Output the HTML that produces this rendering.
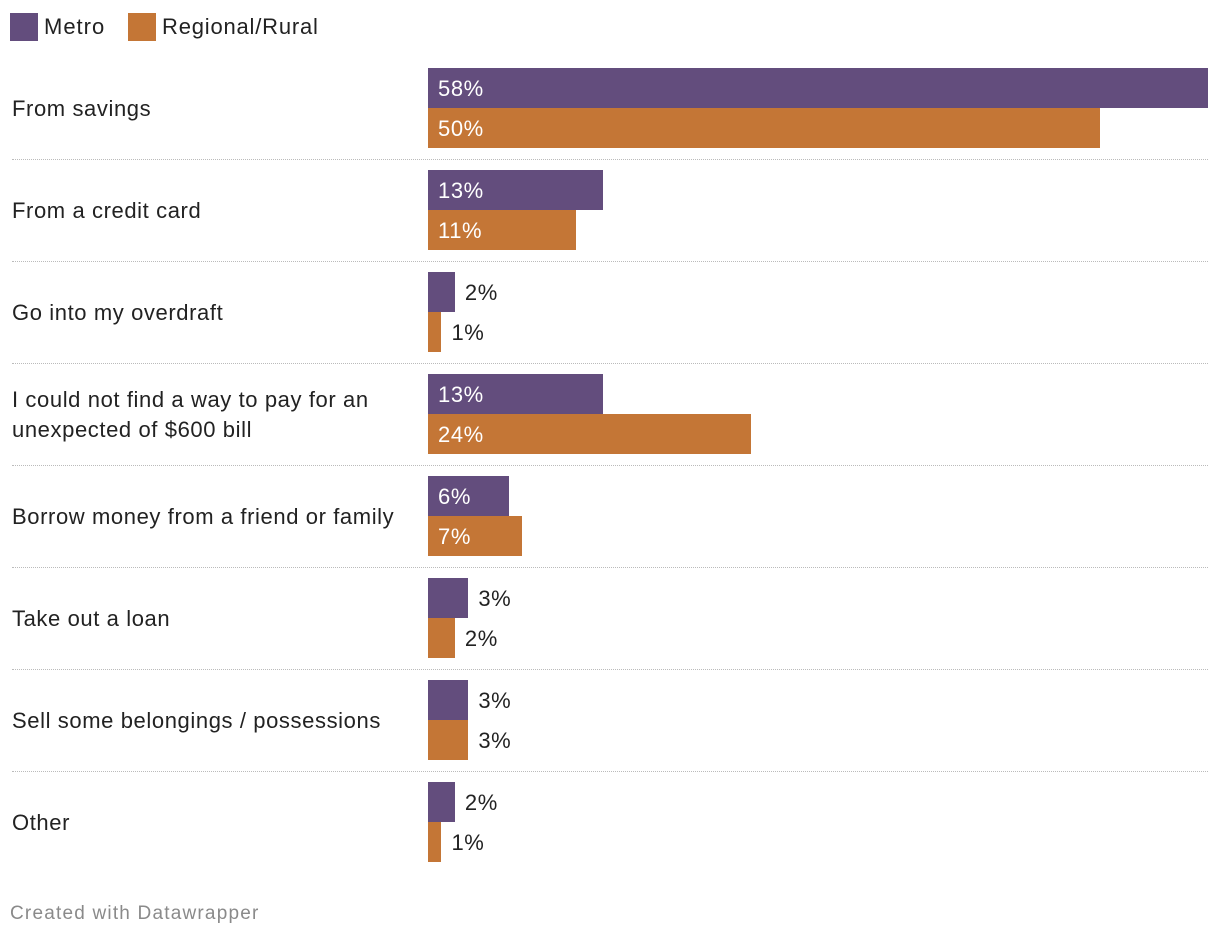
<!DOCTYPE html>
<html><head><meta charset="utf-8"><style>
body{margin:0;width:1220px;height:940px;background:#fff;font-family:"Liberation Sans",Roboto,sans-serif;overflow:hidden;position:relative}
.t{position:absolute;font-size:22px;color:#222;white-space:nowrap;letter-spacing:0.6px}
</style></head><body>
<div style="position:absolute;left:10px;top:12px;height:30px">
<div style="position:absolute;left:0;top:1px;width:28px;height:28px;background:#634d7d"></div>
<div class="t" style="left:34px;top:2px;letter-spacing:1px">Metro</div>
<div style="position:absolute;left:118px;top:1px;width:28px;height:28px;background:#c47636"></div>
<div class="t" style="left:152px;top:2px;letter-spacing:0.8px">Regional/Rural</div>
</div>
<div id="chart"></div>
<div class="t" style="left:10px;top:903px;font-size:19px;color:#8a8a8a;letter-spacing:1.2px">Created with Datawrapper</div>
<script>
const categories=["From savings","From a credit card","Go into my overdraft","I could not find a way to pay for an<br>unexpected of $600 bill","Borrow money from a friend or family","Take out a loan","Sell some belongings / possessions","Other"];
const metro=[58,13,2,13,6,3,3,2];
const regional=[50,11,1,24,7,2,3,1];
const colors=["#634d7d","#c47636"];
const x0=428, scale=780/58, top0=68, pitch=102, bh=40;
const c=document.getElementById('chart');
function xw(v){return v*scale;}
categories.forEach((cat,i)=>{
  const y=top0+i*pitch;
  const lab=document.createElement('div');
  lab.className='t';
  
  
  lab.innerHTML=cat;
  lab.style.left='12px';lab.style.lineHeight='30px';
  const lines=cat.split('<br>').length;
  lab.style.top=(y+41-lines*15)+'px';
  c.appendChild(lab);
  [metro[i],regional[i]].forEach((v,s)=>{
    const b=document.createElement('div');
    
    
    b.style.cssText=`position:absolute;left:${x0}px;top:${y+s*bh}px;width:${xw(v)}px;height:${bh}px;background:${colors[s]}`;
    c.appendChild(b);
    const t=document.createElement('div');
    t.className='t';
    
    
    t.textContent=v+'%';
    const inside=v>=5;
    t.style.top=(y+s*bh+8)+'px';
    t.style.left=(inside?x0+10:x0+xw(v)+10)+'px';
    t.style.color=inside?'#fff':'#222';
    c.appendChild(t);
  });
  if(i<categories.length-1){
    const sep=document.createElement('div');
    
    
    sep.style.cssText=`position:absolute;left:12px;width:1196px;top:${y+91}px;border-top:1px dotted #bbb`;
    c.appendChild(sep);
  }
});
</script>
</body></html>
